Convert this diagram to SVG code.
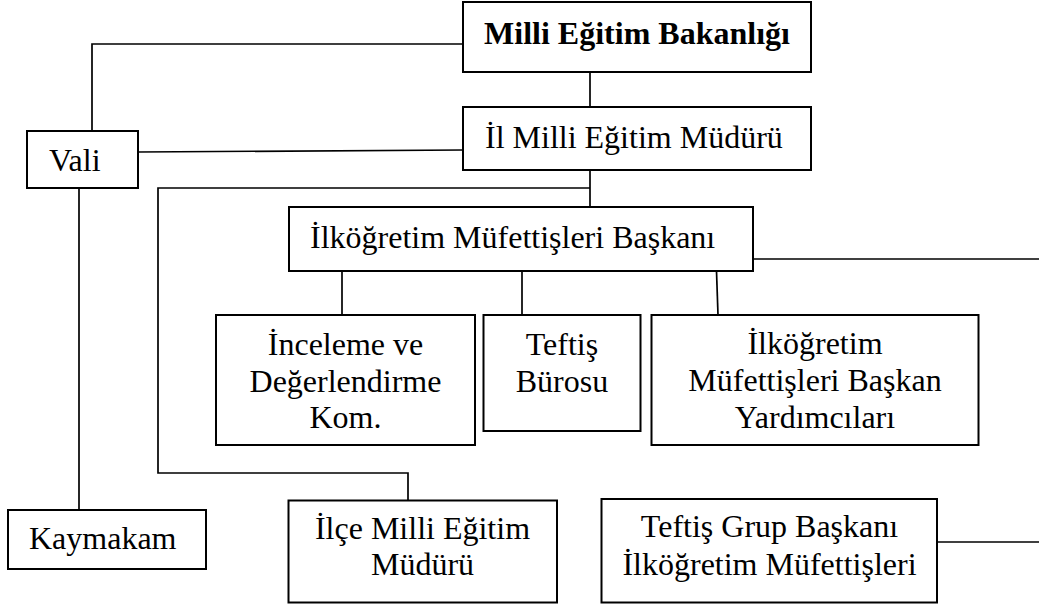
<svg xmlns="http://www.w3.org/2000/svg" width="1039" height="604" viewBox="0 0 1039 604">
<style>
.box{fill:#fff;stroke:#000;stroke-width:2}
.ln{fill:none;stroke:#000;stroke-width:1.7}
.c{text-anchor:middle}
.b{font-weight:bold}
</style>
<rect width="1039" height="604" fill="#fff"/>
<g id="connectors">
<polyline class="ln" points="463,44 92,44 92,131"/>
<line class="ln" x1="138" y1="152" x2="463" y2="150"/>
<line class="ln" x1="590" y1="72" x2="590" y2="107"/>
<line class="ln" x1="590" y1="170" x2="590" y2="207"/>
<polyline class="ln" points="590,188 158,188 158,473 408,473 408,500"/>
<line class="ln" x1="79" y1="188" x2="79" y2="510"/>
<line class="ln" x1="753" y1="259" x2="1039" y2="259"/>
<line class="ln" x1="342" y1="271" x2="342" y2="315"/>
<line class="ln" x1="522" y1="271" x2="522" y2="315"/>
<line class="ln" x1="716.5" y1="271" x2="718" y2="315"/>
<line class="ln" x1="937" y1="542" x2="1039" y2="542"/>
</g>
<g id="nodes" font-family="Liberation Serif, Times New Roman, Tinos, serif" font-size="32" fill="#000">
<g id="meb">
<rect class="box" x="463" y="2" width="348" height="70"/>
<text class="c b" x="637" y="44">Milli Eğitim Bakanlığı</text>
</g>
<g id="il">
<rect class="box" x="463" y="107" width="348" height="63"/>
<text x="485" y="148">İl Milli Eğitim Müdürü</text>
</g>
<g id="vali">
<rect class="box" x="27" y="131" width="111" height="57"/>
<text x="49" y="171">Vali</text>
</g>
<g id="baskan">
<rect class="box" x="289" y="207" width="464" height="64"/>
<text x="310" y="248">İlköğretim Müfettişleri Başkanı</text>
</g>
<g id="inceleme">
<rect class="box" x="216" y="315" width="259" height="130"/>
<text class="c" x="345.5" y="355">İnceleme ve</text>
<text class="c" x="345.5" y="392">Değerlendirme</text>
<text class="c" x="345.5" y="428">Kom.</text>
</g>
<g id="buro">
<rect class="box" x="483.5" y="315" width="157" height="116"/>
<text class="c" x="562" y="355">Teftiş</text>
<text class="c" x="562" y="392">Bürosu</text>
</g>
<g id="yardimci">
<rect class="box" x="651.5" y="315" width="327" height="130"/>
<text class="c" x="815" y="354">İlköğretim</text>
<text class="c" x="815" y="391">Müfettişleri Başkan</text>
<text class="c" x="815" y="428">Yardımcıları</text>
</g>
<g id="kaymakam">
<rect class="box" x="8" y="510" width="198" height="59"/>
<text x="29" y="549">Kaymakam</text>
</g>
<g id="ilce">
<rect class="box" x="288.5" y="500.5" width="268.5" height="102"/>
<text class="c" x="422.5" y="539">İlçe Milli Eğitim</text>
<text class="c" x="422.5" y="575">Müdürü</text>
</g>
<g id="grup">
<rect class="box" x="601.5" y="499" width="335.5" height="103.5"/>
<text class="c" x="769.5" y="537">Teftiş Grup Başkanı</text>
<text class="c" x="769.5" y="575">İlköğretim Müfettişleri</text>
</g>
</g>
</svg>
